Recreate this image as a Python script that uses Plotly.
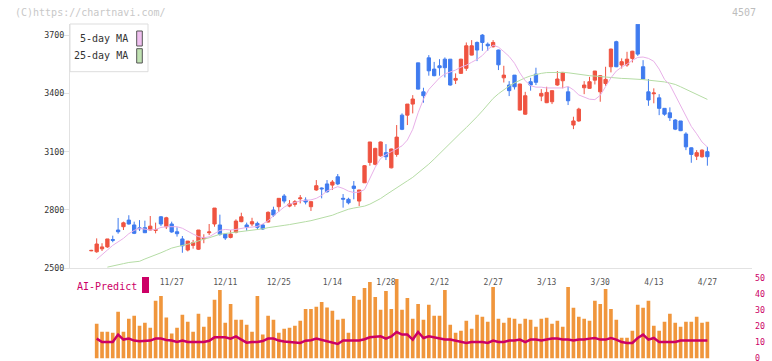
import plotly.graph_objects as go

W, H = 772, 361

# ---------------- data ----------------
opens = [2590, 2585, 2600, 2610, 2648, 2697, 2714, 2748, 2723, 2708,
         2709, 2697, 2695, 2765, 2714, 2728, 2688, 2651, 2594, 2618,
         2598, 2652, 2683, 2728, 2723, 2676, 2659, 2685, 2740, 2723,
         2728, 2731, 2723, 2738, 2800, 2817, 2872, 2820, 2829, 2858,
         2851, 2817, 2903, 2913, 2934, 2928, 2971, 2860, 2855, 2923,
         2846, 2940, 3045, 3035, 3079, 3095, 3017, 3086, 3288, 3288,
         3345, 3557, 3408, 3583, 3525, 3542, 3576, 3576, 3468, 3503,
         3529, 3597, 3662, 3700, 3653, 3640, 3623, 3480, 3443, 3494,
         3314, 3293, 3460, 3499, 3386, 3352, 3357, 3443, 3465, 3408,
         3237, 3258, 3429, 3426, 3468, 3408, 3451, 3537, 3666, 3546,
         3546, 3580, 3756, 3537, 3408, 3398, 3377, 3323, 3300, 3263,
         3258, 3191, 3120, 3077, 3074, 3100]
highs = [2595, 2654, 2629, 2651, 2668, 2759, 2740, 2773, 2740, 2748,
         2745, 2769, 2735, 2769, 2765, 2740, 2711, 2666, 2640, 2646,
         2697, 2675, 2728, 2810, 2776, 2676, 2697, 2752, 2786, 2735,
         2760, 2740, 2728, 2793, 2817, 2860, 2882, 2851, 2851, 2877,
         2865, 2843, 2954, 2916, 2954, 2954, 2985, 2882, 2863, 2949,
         2903, 3031, 3150, 3120, 3152, 3139, 3116, 3237, 3297, 3345,
         3391, 3557, 3429, 3597, 3562, 3576, 3585, 3576, 3503, 3578,
         3662, 3674, 3667, 3705, 3662, 3674, 3625, 3542, 3463, 3494,
         3450, 3408, 3480, 3532, 3422, 3434, 3414, 3515, 3510, 3434,
         3280, 3326, 3463, 3485, 3515, 3494, 3537, 3630, 3671, 3580,
         3614, 3619, 3756, 3571, 3474, 3426, 3396, 3323, 3328, 3268,
         3258, 3200, 3122, 3108, 3112, 3125]
lows = [2588, 2580, 2589, 2605, 2634, 2678, 2697, 2725, 2676, 2692,
        2683, 2695, 2680, 2717, 2702, 2683, 2663, 2580, 2587, 2601,
        2594, 2629, 2671, 2714, 2668, 2646, 2654, 2680, 2737, 2693,
        2717, 2702, 2697, 2736, 2765, 2791, 2834, 2814, 2817, 2834,
        2829, 2795, 2899, 2860, 2889, 2903, 2928, 2812, 2829, 2855,
        2820, 2940, 3028, 3030, 3074, 3057, 3014, 3074, 3211, 3237,
        3297, 3420, 3352, 3491, 3488, 3491, 3482, 3440, 3448, 3500,
        3516, 3595, 3566, 3619, 3619, 3636, 3520, 3456, 3386, 3420,
        3312, 3290, 3414, 3443, 3360, 3350, 3345, 3439, 3426, 3340,
        3216, 3254, 3396, 3424, 3446, 3357, 3439, 3508, 3535, 3528,
        3537, 3559, 3593, 3472, 3336, 3349, 3288, 3285, 3258, 3211,
        3206, 3108, 3043, 3057, 3069, 3028]
closes = [2592, 2625, 2610, 2651, 2644, 2688, 2734, 2728, 2680, 2704,
          2683, 2717, 2699, 2728, 2760, 2687, 2678, 2616, 2640, 2632,
          2697, 2656, 2687, 2810, 2675, 2656, 2676, 2743, 2765, 2711,
          2740, 2711, 2702, 2788, 2774, 2860, 2846, 2831, 2843, 2862,
          2841, 2843, 2925, 2909, 2894, 2944, 2934, 2856, 2837, 2911,
          2903, 3028, 3150, 3117, 3150, 3074, 3114, 3175, 3215, 3345,
          3371, 3422, 3388, 3516, 3491, 3532, 3532, 3443, 3477, 3576,
          3645, 3645, 3623, 3662, 3645, 3662, 3547, 3494, 3414, 3434,
          3448, 3388, 3443, 3457, 3400, 3405, 3414, 3474, 3508, 3362,
          3258, 3319, 3443, 3460, 3515, 3491, 3472, 3628, 3537, 3563,
          3576, 3617, 3602, 3474, 3366, 3402, 3323, 3293, 3275, 3216,
          3208, 3125, 3086, 3095, 3108, 3074]

ma5 = [None, 2546, 2568, 2594, 2618, 2637, 2654, 2678, 2695, 2706,
       2700, 2697, 2700, 2710, 2714, 2714, 2714, 2706, 2690, 2676,
       2663, 2657, 2662, 2678, 2695, 2700, 2697, 2700, 2706, 2710,
       2712, 2716, 2728, 2745, 2770, 2795, 2815, 2830, 2840, 2847,
       2850, 2852, 2860, 2875, 2898, 2911, 2920, 2911, 2897, 2890,
       2892, 2905, 2960, 3020, 3065, 3085, 3100, 3115, 3130, 3160,
       3215, 3300, 3370, 3420, 3450, 3480, 3500, 3510, 3520, 3535,
       3545, 3560, 3575, 3595, 3625, 3648, 3638, 3615, 3590, 3555,
       3505, 3465, 3440, 3432, 3432, 3428, 3428, 3427, 3428, 3436,
       3418, 3392, 3380, 3370, 3368, 3390, 3435, 3480, 3515, 3535,
       3550, 3570, 3585, 3587, 3580, 3565, 3525, 3472, 3444, 3392,
       3338, 3285, 3230, 3192, 3150, 3124]

ma25 = [None, None, None, 2506, 2511, 2517, 2524, 2530, 2534, 2536,
        2548, 2558, 2567, 2580, 2592, 2604, 2611, 2616, 2624, 2632,
        2643, 2650, 2657, 2666, 2675, 2679, 2682, 2686, 2690, 2693,
        2695, 2697, 2703, 2709, 2714, 2717, 2721, 2725, 2729, 2734,
        2740, 2745, 2752, 2758, 2764, 2773, 2784, 2796, 2804, 2810,
        2816, 2820, 2830, 2843, 2859, 2878, 2897, 2915, 2932, 2950,
        2968, 2990, 3012, 3036, 3062, 3090, 3118, 3145, 3172, 3198,
        3224, 3250, 3280, 3310, 3342, 3374, 3398, 3420, 3438, 3454,
        3468, 3480, 3490, 3498, 3503, 3507, 3508, 3508, 3508, 3506,
        3502, 3497, 3493, 3491, 3489, 3486, 3484, 3481, 3479, 3477,
        3476, 3475, 3473, 3471, 3468, 3466, 3463, 3459, 3453, 3446,
        3434, 3421, 3407, 3392, 3380, 3369]

volume = [None,
          21.5, 16.6, 16.6, 16.0, 28.9, 16.6, 24.6, 26.4, 20.3, 22.1,
          19.1, 35.7, 38.7, 25.4, 15.4, 19.1, 27.0, 22.7, 16.6, 27.7,
          19.7, 25.8, 36.3, 42.4, 22.1, 33.8, 24.0, 24.0, 20.9, 16.6,
          38.7, 14.8, 26.4, 24.0, 16.0, 18.4, 19.1, 20.3, 23.4, 30.7,
          30.7, 32.0, 35.0, 31.6, 29.5, 24.0, 24.6, 16.0, 38.7, 36.3,
          43.6, 47.3, 38.1, 30.1, 41.8, 30.7, 49.2, 30.1, 37.5, 24.6,
          33.8, 24.0, 33.2, 26.4, 26.4, 42.4, 20.9, 16.0, 17.2, 23.4,
          18.4, 27.0, 25.8, 22.7, 44.3, 24.6, 22.1, 25.2, 24.6, 21.5,
          24.6, 24.0, 19.7, 24.6, 25.2, 21.5, 23.4, 19.7, 44.3, 31.4,
          25.8, 24.6, 23.4, 35.7, 33.8, 43.0, 30.7, 24.0, 12.9, 12.9,
          17.2, 33.2, 31.4, 35.7, 20.3, 17.2, 22.7, 27.7, 22.1, 19.7,
          22.7, 22.7, 25.8, 22.1, 22.7]

ai_predict = [None,
              12.3, 10.2, 10.2, 10.2, 14.8, 11.7, 12.3, 11.1, 10.7, 11.1,
              11.1, 12.3, 12.3, 11.5, 11.1, 10.2, 11.1, 10.2, 10.2, 10.2,
              10.2, 11.0, 13.1, 13.1, 13.1, 12.3, 13.7, 11.7, 9.8, 10.2,
              10.2, 10.8, 12.3, 12.3, 11.1, 10.5, 10.2, 10.0, 9.6, 11.0,
              11.3, 12.3, 11.5, 10.6, 10.2, 9.0, 11.1, 11.1, 11.1, 11.1,
              11.9, 13.1, 13.5, 13.7, 12.3, 13.7, 16.4, 14.8, 14.8, 11.7,
              16.4, 12.7, 13.7, 13.1, 12.3, 11.7, 11.7, 11.1, 10.2, 9.6,
              10.2, 10.2, 10.2, 9.6, 11.1, 10.2, 10.2, 11.1, 11.1, 11.7,
              10.2, 11.7, 11.7, 11.1, 11.7, 12.3, 12.3, 11.7, 11.7, 11.1,
              11.7, 11.7, 12.3, 12.7, 11.7, 11.7, 12.7, 11.7, 10.2, 9.6,
              9.6, 12.7, 14.8, 11.7, 12.7, 10.2, 10.2, 10.2, 10.2, 11.1,
              11.1, 11.1, 11.1, 11.1, 11.1]

tick_index = [15, 25, 35, 45, 55, 65, 75, 85, 95, 105, 115]
tick_labels = ["11/27", "12/11", "12/25", "1/14", "1/28", "2/12",
               "2/27", "3/13", "3/30", "4/13", "4/27"]

y_ticks = [2500, 2800, 3100, 3400, 3700]
y2_ticks = [0, 10, 20, 30, 40, 50]

# ---------------- styling ----------------
UP = "#EF5340"
DOWN = "#3F7BEF"
PINK = "#E8B0E8"
GREEN = "#B5DCA5"
ORANGE = "#F0963C"
CRIMSON = "#CC0066"
AXIS = "#E2E2E2"
MONO = "DejaVu Sans Mono"

idx = list(range(len(closes)))


def px(x):
    return x / W


def py(y):
    return 1 - y / H


XDOM = [px(70), px(752)]
XRANGE = [-3.98, 123.33]

fig = go.Figure()

fig.add_trace(go.Candlestick(
    x=idx, open=opens, high=highs, low=lows, close=closes,
    increasing=dict(line=dict(color=UP, width=1), fillcolor=UP),
    decreasing=dict(line=dict(color=DOWN, width=1), fillcolor=DOWN),
    whiskerwidth=0, showlegend=False, hoverinfo="skip",
    xaxis="x", yaxis="y"))

fig.add_trace(go.Scatter(x=idx, y=ma25, mode="lines",
                         line=dict(color=GREEN, width=1),
                         showlegend=False, hoverinfo="skip"))
fig.add_trace(go.Scatter(x=idx, y=ma5, mode="lines",
                         line=dict(color=PINK, width=1),
                         showlegend=False, hoverinfo="skip"))

fig.add_trace(go.Bar(x=idx, y=volume, width=0.68,
                     marker=dict(color=ORANGE, line=dict(width=0)),
                     showlegend=False, hoverinfo="skip",
                     xaxis="x2", yaxis="y2"))
fig.add_trace(go.Scatter(x=idx, y=ai_predict, mode="lines",
                         line=dict(color=CRIMSON, width=2.5),
                         showlegend=False, hoverinfo="skip",
                         xaxis="x2", yaxis="y2"))

fig.update_layout(
    template="none",
    width=W, height=H,
    margin=dict(l=0, r=0, t=0, b=0),
    paper_bgcolor="white", plot_bgcolor="rgba(0,0,0,0)",
    font=dict(family=MONO, size=9, color="#333"),
    boxgap=0.12,
    showlegend=False,
    hovermode=False,
    xaxis=dict(domain=XDOM, range=XRANGE, anchor="y",
               showline=True, linecolor=AXIS, linewidth=1,
               ticks="", tickvals=tick_index, ticktext=tick_labels,
               tickfont=dict(family=MONO, size=8, color="#555"),
               ticklabelstandoff=6,
               showgrid=False, zeroline=False, automargin=False,
               rangeslider=dict(visible=False)),
    yaxis=dict(domain=[py(268.3), py(24)], range=[2500, 3757], anchor="x",
               showline=True, linecolor=AXIS, linewidth=1,
               ticks="outside", ticklen=5, tickcolor=AXIS, tickwidth=1,
               tickvals=y_ticks,
               tickfont=dict(family=MONO, size=8.3, color="#333"),
               ticklabelstandoff=-2,
               showgrid=False, zeroline=False, automargin=False),
    xaxis3=dict(domain=XDOM, range=[0, 11], overlaying="x", anchor="y",
                side="bottom", dtick=1, tick0=0, ticks="outside", ticklen=3,
                tickcolor=AXIS, showticklabels=False, showline=False,
                showgrid=False, zeroline=False, automargin=False),
    xaxis4=dict(domain=XDOM, range=[0, 11], overlaying="x", anchor="y",
                side="bottom", dtick=1, tick0=0, ticks="inside", ticklen=3,
                tickcolor=AXIS, showticklabels=False, showline=False,
                showgrid=False, zeroline=False, automargin=False),
    xaxis2=dict(domain=XDOM, range=XRANGE, anchor="y2", visible=False),
    yaxis2=dict(domain=[py(358.5), py(277.7)], range=[0, 50], anchor="x2",
                side="right", tickvals=y2_ticks, ticks="",
                tickfont=dict(family=MONO, size=8.3, color=CRIMSON),
                ticklabelstandoff=2, ticklabeloverflow="allow",
                showline=False, showgrid=False, zeroline=False,
                automargin=False),
)

shapes = [
    # legend box
    dict(type="rect", xref="paper", yref="paper",
         x0=px(70), x1=px(148), y0=py(71.7), y1=py(24),
         line=dict(color="#DDDDDD", width=1), fillcolor="white", layer="above"),
    dict(type="rect", xref="paper", yref="paper",
         x0=px(136.7), x1=px(142.3), y0=py(46), y1=py(31),
         line=dict(color="#555555", width=1), fillcolor="#F0C0F0", layer="above"),
    dict(type="rect", xref="paper", yref="paper",
         x0=px(136.7), x1=px(142.3), y0=py(63), y1=py(48.7),
         line=dict(color="#555555", width=1), fillcolor="#C0E2B2", layer="above"),
    # AI-Predict marker
    dict(type="rect", xref="paper", yref="paper",
         x0=px(142), x1=px(149), y0=py(293), y1=py(277),
         line=dict(width=0), fillcolor=CRIMSON, layer="above"),
]

annotations = [
    dict(text="(C)https://chartnavi.com/", xref="paper", yref="paper",
         x=px(13), y=py(12), xanchor="left", yanchor="middle", showarrow=False,
         font=dict(family=MONO, size=10, color="#C8C8C8")),
    dict(text="4507", xref="paper", yref="paper",
         x=px(758), y=py(12), xanchor="right", yanchor="middle", showarrow=False,
         font=dict(family=MONO, size=10, color="#BDBDBD")),
    dict(text="5-day MA", xref="paper", yref="paper",
         x=px(130), y=py(38.5), xanchor="right", yanchor="middle", showarrow=False,
         font=dict(family=MONO, size=10, color="#333")),
    dict(text="25-day MA", xref="paper", yref="paper",
         x=px(130), y=py(56), xanchor="right", yanchor="middle", showarrow=False,
         font=dict(family=MONO, size=10, color="#333")),
    dict(text="AI-Predict", xref="paper", yref="paper",
         x=px(75), y=py(286), xanchor="left", yanchor="middle", showarrow=False,
         font=dict(family=MONO, size=10, color=CRIMSON)),
]

fig.update_layout(shapes=shapes, annotations=annotations)

fig.write_html("out.html",
               config={"displayModeBar": False, "staticPlot": True},
               post_script="document.body.style.margin='0';"
                           "document.body.style.padding='0';")
